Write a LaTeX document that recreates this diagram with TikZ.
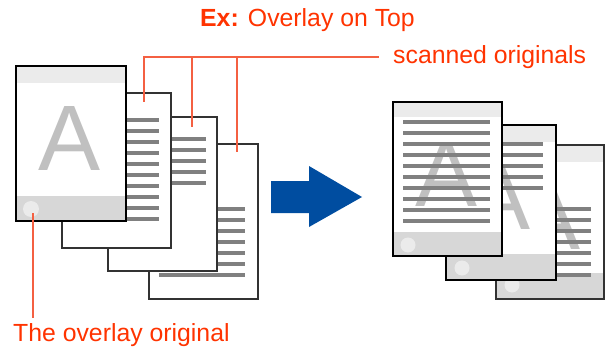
\documentclass[tikz,border=0pt]{standalone}
\usepackage{fontspec}
\setmainfont{Liberation Sans}
\usepackage{xcolor}
\definecolor{callred}{RGB}{255,51,0}
\definecolor{leadred}{RGB}{244,96,66}
\definecolor{barblue}{RGB}{0,77,160}
\definecolor{topband}{RGB}{235,235,235}
\definecolor{botband}{RGB}{215,215,215}
\definecolor{textbar}{RGB}{128,128,128}
\definecolor{bigA}{RGB}{192,192,192}

\begin{document}
\begin{tikzpicture}[x=1pt,y=-1pt,
  lbl/.style={inner sep=0pt, text=callred, font=\fontsize{24.8}{24.8}\selectfont},
  bigletter/.style={inner sep=0pt, anchor=base, text=bigA, font=\fontsize{93}{93}\selectfont},
  sheet/.style={draw={rgb,255:red,50;green,50;blue,50}, fill=white, line width=1.3pt},
  frontsheet/.style={draw=black, line width=1.8pt},
  textrow/.style={draw=textbar, line width=4.5pt},
  lead/.style={draw=leadred, line width=1.2pt}]
\useasboundingbox (0,0) rectangle (605,350);

% scanned originals, back to front
\filldraw[sheet] (149,144) rectangle (258,299);
\foreach \y in {209,220,...,275} \draw[textrow] (159,\y) -- (245,\y);
\filldraw[sheet] (108,117) rectangle (217,271);
\foreach \y in {139,150,...,183} \draw[textrow] (119,\y) -- (206,\y);
\filldraw[sheet] (62,93) rectangle (171,248);
\foreach \y in {120,131,...,219} \draw[textrow] (73,\y) -- (159,\y);

% overlay original
\fill[white] (16,66) rectangle (126,221);
\fill[topband] (16,66) rectangle (126,83);
\fill[botband] (16,196) rectangle (126,221);
\node[bigletter] (A0) at (70,170) {A};
\node[circle, fill=topband, minimum size=16pt, inner sep=0pt] (c0) at (31,209) {};
\draw[frontsheet] (16,66) rectangle (126,221);

% arrow
\fill[barblue] (271,181) -- (309,181) -- (309,166) -- (362,197) -- (309,227) -- (309,213) -- (271,213) -- cycle;

% result, back to front
\fill[white] (496,145) rectangle (604,299);
\node[bigletter] (A3) at (550,249) {A};
\fill[topband] (496,145) rectangle (604,162);
\fill[botband] (496,273) rectangle (604,299);
\node[circle, fill=topband, minimum size=15pt, inner sep=0pt] (c3) at (512,285) {};
\foreach \y in {209,220,...,275} \draw[textrow] (506,\y) -- (591,\y);
\draw[sheet, fill=none] (496,145) rectangle (604,299);

\fill[white] (446,125) rectangle (556,280);
\node[bigletter] (A2) at (500,229) {A};
\fill[topband] (446,125) rectangle (556,142);
\fill[botband] (446,254) rectangle (556,280);
\node[circle, fill=topband, minimum size=15pt, inner sep=0pt] (c2) at (462,268) {};
\foreach \y in {144,155,...,188} \draw[textrow] (456,\y) -- (543,\y);
\draw[frontsheet] (446,125) rectangle (556,280);

\fill[white] (393,102) rectangle (502,256);
\node[bigletter] (A1) at (447,206) {A};
\fill[topband] (393,102) rectangle (502,117);
\fill[botband] (393,232) rectangle (502,256);
\node[circle, fill=topband, minimum size=15pt, inner sep=0pt] (c1) at (408,245) {};
\foreach \y in {122,133,...,221} \draw[textrow] (403,\y) -- (490,\y);
\draw[frontsheet] (393,102) rectangle (502,256);

% labels and leaders
\node[lbl, anchor=base west] (ex) at (200,27) {\textbf{Ex:} Overlay on Top};
\node[lbl, anchor=base west] (scan) at (393,63.5) {scanned originals};
\node[lbl, anchor=base west] (ovl) at (13,341.5) {The overlay original};
\coordinate (j) at (379,57);
\coordinate (s1) at (144,102);
\coordinate (s2) at (192,127);
\coordinate (s3) at (237,152);
\coordinate (o0) at (33,213);
\coordinate (o1) at (33,318);
\draw[lead] (s1) |- (j);
\draw[lead] (s2) -- (s2 |- j);
\draw[lead] (s3) -- (s3 |- j);
\draw[lead] (o0) -- (o1);
\end{tikzpicture}
\end{document}
